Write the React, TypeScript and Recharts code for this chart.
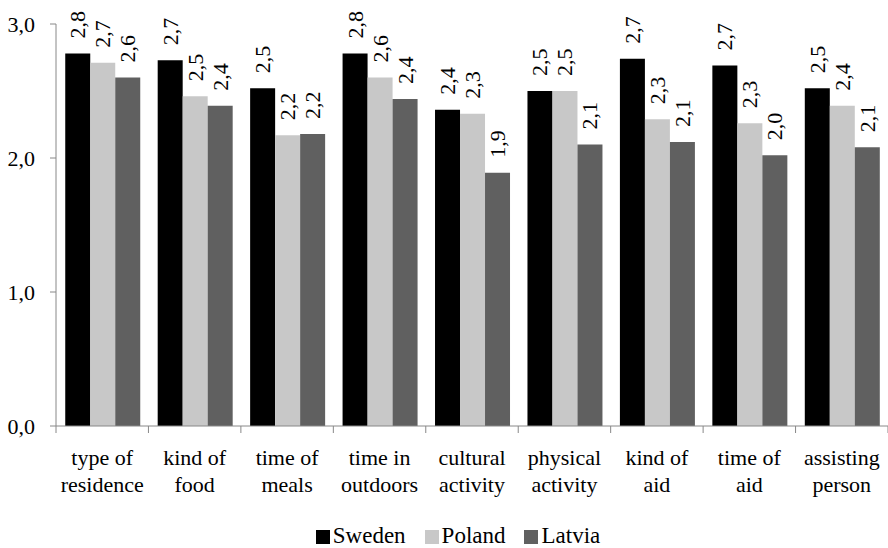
// Grouped bar chart: mean scores per care aspect for Sweden, Poland and Latvia.
import React from "react";
import { BarChart, Bar, XAxis, YAxis, Legend, LabelList } from "recharts";

const categories = [
  "type of\nresidence",
  "kind of\nfood",
  "time of\nmeals",
  "time in\noutdoors",
  "cultural\nactivity",
  "physical\nactivity",
  "kind of\naid",
  "time of\naid",
  "assisting\nperson",
];
const sweden = [2.78, 2.73, 2.52, 2.78, 2.36, 2.5, 2.74, 2.69, 2.52];
const poland = [2.71, 2.46, 2.17, 2.6, 2.33, 2.5, 2.29, 2.26, 2.39];
const latvia = [2.6, 2.39, 2.18, 2.44, 1.89, 2.1, 2.12, 2.02, 2.08];
const yTicks = [0, 1, 2, 3];

const series = [
  { key: "sweden", name: "Sweden", color: "#000000" },
  { key: "poland", name: "Poland", color: "#c8c8c8" },
  { key: "latvia", name: "Latvia", color: "#606060" },
];

const data = categories.map((c, i) => ({
  category: c,
  sweden: sweden[i],
  poland: poland[i],
  latvia: latvia[i],
}));

const FONT = '"Liberation Serif", "Times New Roman", serif';
const AXIS = "#888888";
const fmt = (v: number) => v.toFixed(1).replace(".", ",");

// category label in two lines, tick marks drawn on the band edges
const CategoryTick = (props: any) => {
  const { x, y, payload, index } = props;
  const half = payload?.offset ?? 0;
  const lines = String(payload.value).split("\n");
  const isLast = index === categories.length - 1;
  return (
    <g>
      <line x1={x - half} x2={x - half} y1={y} y2={y + 7} stroke={AXIS} />
      {isLast && <line x1={x + half} x2={x + half} y1={y} y2={y + 7} stroke={AXIS} />}
      <text x={x} y={y} textAnchor="middle" style={{ fontFamily: FONT, fontSize: 22 }} fill="#000">
        {lines.map((l, i) => (
          <tspan key={i} x={x} dy={i === 0 ? 39 : 27}>
            {l}
          </tspan>
        ))}
      </text>
    </g>
  );
};

const ValueTick = (props: any) => {
  const { x, y, payload } = props;
  return (
    <text x={x} y={y} textAnchor="end" dominantBaseline="central" style={{ fontFamily: FONT, fontSize: 22 }} fill="#000">
      {fmt(Number(payload.value))}
    </text>
  );
};

const BarLabel = (props: any) => {
  const { x, y, width, value } = props;
  const cx = Number(x) + Number(width) / 2;
  const ty = Number(y) - 15;
  return (
    <text
      x={cx}
      y={ty}
      transform={`rotate(-90 ${cx} ${ty})`}
      textAnchor="start"
      dominantBaseline="central"
      style={{ fontFamily: FONT, fontSize: 22 }}
      fill="#000"
    >
      {fmt(Number(value))}
    </text>
  );
};

const LegendContent = () => (
  <div
    style={{
      height: 30,
      display: "flex",
      justifyContent: "center",
      paddingLeft: 28,
      fontFamily: FONT,
      fontSize: 23,
      color: "#000",
    }}
  >
    {series.map((s, i) => (
      <div
        key={s.key}
        style={{ display: "flex", alignItems: "flex-start", marginRight: i < series.length - 1 ? 19 : 0 }}
      >
        <span style={{ width: 14, height: 14, background: s.color, marginTop: 12, marginRight: 3 }} />
        <span style={{ lineHeight: "23px", marginTop: 6 }}>{s.name}</span>
      </div>
    ))}
  </div>
);

export default function App() {
  return (
    <div style={{ width: 888, height: 548 }}>
      <style>{"body{margin:0}"}</style>
      <BarChart
        width={888}
        height={548}
        data={data}
        margin={{ top: 24, right: 0, bottom: 0, left: 0 }}
        barCategoryGap="10%"
        barGap={0}
      >
        <XAxis
          dataKey="category"
          interval={0}
          height={92}
          axisLine={{ stroke: AXIS }}
          tickLine={false}
          tickSize={0}
          tickMargin={0}
          tick={CategoryTick}
        />
        <YAxis
          width={56}
          domain={[0, 3]}
          ticks={yTicks}
          axisLine={{ stroke: AXIS }}
          tickLine={{ stroke: AXIS }}
          tickSize={6}
          tickMargin={15}
          tick={ValueTick}
        />
        <Legend verticalAlign="bottom" content={LegendContent} />
        {series.map((s) => (
          <Bar key={s.key} dataKey={s.key} name={s.name} fill={s.color} isAnimationActive={false}>
            <LabelList dataKey={s.key} content={BarLabel} />
          </Bar>
        ))}
      </BarChart>
    </div>
  );
}
